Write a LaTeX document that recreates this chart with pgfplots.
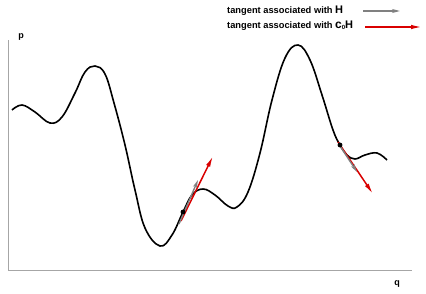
\documentclass[border=0pt]{standalone}
\usepackage{pgfplots}
\pgfplotsset{compat=1.18}
\usepackage{fontspec}
\setmainfont{Liberation Sans}
\usetikzlibrary{arrows.meta}
\begin{document}
\begin{tikzpicture}
\begin{axis}[width=426pt,height=293pt,scale only axis,xmin=0,xmax=426,ymin=0,ymax=293,hide axis,clip=false]
\addplot[draw=none] coordinates {(0,0)(426,293)};
\addplot[black!35, line width=1pt] coordinates {(8,253)(8,23)(412,23)};
\addplot[black, line width=1.6pt, smooth, tension=0.65] coordinates {
(12,183)(22,188)(35,181)(50,170)(62,176)(75,200)(85,221)(95,227)(105,219)(114,190)(125,148)(135,103)(145,65)(160,47)(172,58)(183,81)(192,98)(203,104)(215,98)(228,87)(237,86)(248,101)(260,140)(272,193)(285,235)(298,248)(310,233)(322,198)(333,163)(340,148)(347,138)(355,134)(365,138)(377,140)(387,133)};
% left tangent
\addplot[red!85!black, line width=1.5pt, -{Latex[length=11pt,width=4.5pt]}] coordinates {(181,72)(213,137)};
\addplot[black!50, line width=1.4pt, -{Stealth[length=8pt,width=4pt,fill=cyan!15!white]}] coordinates {(179,69)(198,113)};
\addplot[only marks, mark=*, mark size=2.2pt, black] coordinates {(183,81)};
% right tangent
\addplot[red!85!black, line width=1.5pt, -{Latex[length=11pt,width=4.5pt]}] coordinates {(338,151)(373,99)};
\addplot[black!50, line width=1.4pt, -{Stealth[length=8pt,width=4pt,fill=cyan!15!white]}] coordinates {(340,147)(357,121)};
\addplot[only marks, mark=*, mark size=2.2pt, black] coordinates {(340,148)};
% legend
\node[anchor=base west, font=\bfseries\fontsize{9.3}{10}\selectfont, inner sep=0pt] at (axis cs:227,279.5) {tangent associated with \fontsize{11}{12}\selectfont H};
\node[anchor=base west, font=\bfseries\fontsize{9.3}{10}\selectfont, inner sep=0pt] at (axis cs:227,265) {tangent associated with \fontsize{12}{12}\selectfont c\raisebox{-1.5pt}{\fontsize{6}{6}\selectfont 0}\fontsize{11}{12}\selectfont H};
\addplot[black!50, line width=1.4pt, -{Stealth[length=8pt,width=4pt,fill=cyan!15!white]}] coordinates {(363,282)(400,282)};
\addplot[red!85!black, line width=1.5pt, -{Latex[length=11pt,width=4.5pt]}] coordinates {(365,266)(422,266)};
% axis labels
\node[font=\bfseries\fontsize{9}{10}\selectfont] at (axis cs:21,256) {p};
\node[font=\bfseries\fontsize{9}{10}\selectfont] at (axis cs:397,9) {q};
\end{axis}
\end{tikzpicture}
\end{document}
